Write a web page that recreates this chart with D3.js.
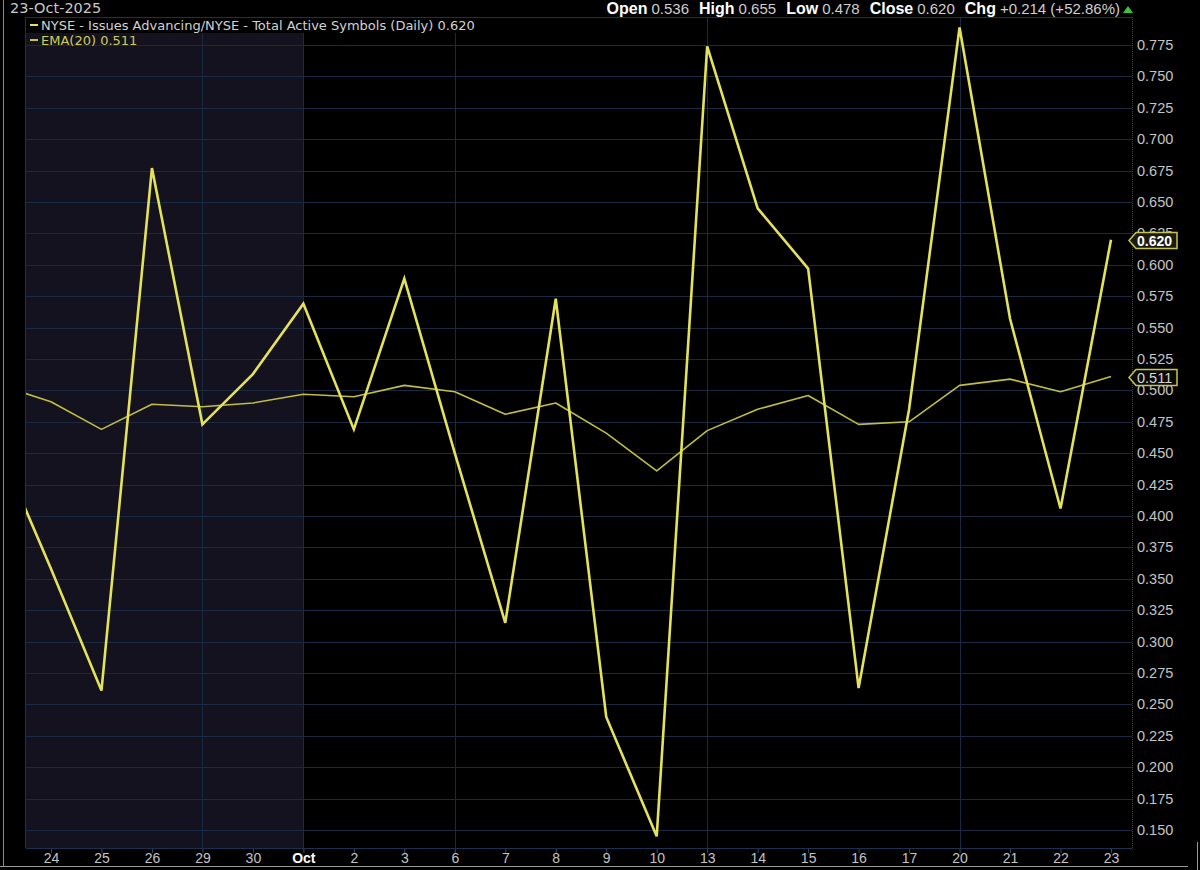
<!DOCTYPE html>
<html>
  <head>
    <script src="https://d3js.org/d3.v7.min.js"></script>
    <style>
    body { margin: 0; background: #000; }
    svg { display: block; font-family: "Liberation Sans", Arial, sans-serif; }
    .ylab { font-size: 14.5px; fill: #c4c4c4; }
    </style>
  </head>
  <body>
    <script>

    // dates (first one sits just off the left edge)
    var dates = ["2025-09-23", "2025-09-24", "2025-09-25", "2025-09-26", "2025-09-29", "2025-09-30",
      "2025-10-01", "2025-10-02", "2025-10-03", "2025-10-06", "2025-10-07", "2025-10-08",
      "2025-10-09", "2025-10-10", "2025-10-13", "2025-10-14", "2025-10-15", "2025-10-16",
      "2025-10-17", "2025-10-20", "2025-10-21", "2025-10-22", "2025-10-23"];
    var dateLabels = ["", "24", "25", "26", "29", "30", "Oct", "2", "3", "6", "7", "8",
      "9", "10", "13", "14", "15", "16", "17", "20", "21", "22", "23"];
    // advancing / total ratio (daily close)
    var ratio = [0.452, 0.358, 0.261, 0.677, 0.473, 0.513, 0.569, 0.469, 0.589, 0.450, 0.315, 0.573,
      0.240, 0.145, 0.774, 0.645, 0.597, 0.263, 0.485, 0.789, 0.557, 0.406, 0.620];
    // EMA(20)
    var ema = [0.504, 0.491, 0.469, 0.489, 0.487, 0.490, 0.497, 0.495, 0.504, 0.499, 0.481, 0.490,
      0.466, 0.436, 0.468, 0.485, 0.496, 0.473, 0.475, 0.504, 0.509, 0.499, 0.511];
    var yTicks = [0.150, 0.175, 0.200, 0.225, 0.250, 0.275, 0.300, 0.325, 0.350, 0.375, 0.400,
      0.425, 0.450, 0.475, 0.500, 0.525, 0.550, 0.575, 0.600, 0.625, 0.650, 0.675, 0.700,
      0.725, 0.750, 0.775];
    var gridDates = ["2025-09-29", "2025-10-01", "2025-10-06", "2025-10-13", "2025-10-20"];
    var header = [["Open", "0.536"], ["High", "0.655"], ["Low", "0.478"], ["Close", "0.620"], ["Chg", "+0.214 (+52.86%)"]];

    var w = 1200, h = 870;
    // plot box (note: "top" is taken by window.top, so use p* names)
    var pLeft = 26, pRight = 1132, pTop = 17, pBottom = 848;

    var svg = d3.select("body").append("svg")
      .attr("width", w)
      .attr("height", h);

    svg.append("rect").attr("width", w).attr("height", h).attr("fill", "#000");

    // x scale: one slot per trading day
    var x = d3.scalePoint()
      .domain(dates)
      .range([0.5, 1111]);

    var y = d3.scaleLinear()
      .domain([0.1357, 0.7973])
      .range([pBottom, pTop]);

    // shaded september part
    svg.append("rect")
      .attr("x", pLeft)
      .attr("y", pTop)
      .attr("width", x("2025-10-01") - pLeft)
      .attr("height", pBottom - pTop)
      .attr("fill", "#13121e");

    // horizontal grid
    svg.append("g")
      .selectAll("line")
      .data(yTicks)
      .enter()
      .append("line")
      .attr("x1", pLeft).attr("x2", pRight)
      .attr("y1", function(d) { return Math.round(y(d)) + 0.5; })
      .attr("y2", function(d) { return Math.round(y(d)) + 0.5; })
      .attr("stroke", "#1b2a43")
      .attr("stroke-width", 1);

    // vertical grid
    svg.append("g")
      .selectAll("line")
      .data(gridDates)
      .enter()
      .append("line")
      .attr("x1", function(d) { return Math.round(x(d)) + 0.5; })
      .attr("x2", function(d) { return Math.round(x(d)) + 0.5; })
      .attr("y1", pTop).attr("y2", pBottom)
      .attr("stroke", "#1b2a43")
      .attr("stroke-width", 1);

    // frame
    svg.append("line").attr("x1", pLeft).attr("x2", pRight).attr("y1", pTop + 0.5).attr("y2", pTop + 0.5)
      .attr("stroke", "#1e3050");
    svg.append("line").attr("x1", pLeft).attr("x2", pRight).attr("y1", pBottom + 0.5).attr("y2", pBottom + 0.5)
      .attr("stroke", "#1e3050");
    svg.append("line").attr("x1", pLeft - 0.5).attr("x2", pLeft - 0.5).attr("y1", pTop).attr("y2", pBottom)
      .attr("stroke", "#1e3050");
    svg.append("line").attr("x1", pRight + 0.5).attr("x2", pRight + 0.5).attr("y1", pTop).attr("y2", pBottom + 2)
      .attr("stroke", "#2c4a78").attr("stroke-dasharray", "1,1");

    // clip for lines
    svg.append("clipPath").attr("id", "plot")
      .append("rect")
      .attr("x", pLeft).attr("y", pTop)
      .attr("width", pRight - pLeft).attr("height", pBottom - pTop);

    var line = d3.line()
      .x(function(d, i) { return x(dates[i]); })
      .y(function(d) { return y(d); });

    var g = svg.append("g").attr("clip-path", "url(#plot)");

    g.append("path")
      .datum(ema)
      .attr("d", line)
      .attr("fill", "none")
      .attr("stroke", "#c2bd40")
      .attr("stroke-width", 1.6)
      .attr("stroke-linejoin", "round");

    g.append("path")
      .datum(ratio)
      .attr("d", line)
      .attr("fill", "none")
      .attr("stroke", "#e4e25a")
      .attr("stroke-width", 2.6)
      .attr("stroke-linejoin", "miter");

    // y axis labels on the right
    svg.append("g")
      .selectAll("text")
      .data(yTicks)
      .enter()
      .append("text")
      .attr("class", "ylab")
      .attr("x", pRight + 5)
      .attr("y", function(d) { return y(d) + 5; })
      .text(function(d) { return d3.format(".3f")(d); });

    // x axis ticks + labels
    var xAxis = d3.axisBottom(x)
      .tickValues(dates.slice(1))
      .tickSize(4)
      .tickFormat(function(d) { return dateLabels[dates.indexOf(d)]; });

    var xg = svg.append("g")
      .attr("transform", "translate(0," + (pBottom + 1) + ")")
      .call(xAxis);
    xg.select(".domain").remove();
    xg.selectAll(".tick line").attr("stroke", "#3a4a66");
    xg.selectAll(".tick text")
      .attr("dy", null)
      .attr("y", 14)
      .style("font-size", "14px")
      .style("fill", function(d) { return d === "2025-10-01" ? "#ffffff" : "#c4c4c4"; })
      .style("font-weight", function(d) { return d === "2025-10-01" ? "bold" : "normal"; })
      .style("font-family", "'Liberation Sans', Arial, sans-serif");

    // value tags on the right axis
    function tag(v, bold, fill) {
      var ty = Math.round(y(v)) + 0.5;
      var gt = svg.append("g");
      gt.append("path")
        .attr("d", "M" + (pRight - 3) + "," + ty + " L" + (pRight + 4) + "," + (ty - 8) +
          " L" + 1177 + "," + (ty - 8) + " L" + 1177 + "," + (ty + 8) +
          " L" + (pRight + 4) + "," + (ty + 8) + " Z")
        .attr("fill", fill)
        .attr("stroke", "#c8c453")
        .attr("stroke-width", 1.5);
      gt.append("text")
        .attr("x", pRight + 5)
        .attr("y", ty + 5)
        .attr("font-size", bold ? "14px" : "14.5px")
        .attr("font-weight", bold ? "bold" : "normal")
        .attr("fill", bold ? "#ffffff" : "#d6d6d6")
        .text(d3.format(".3f")(v));
    }
    tag(ratio[ratio.length - 1], true, "#1b1b12");
    tag(ema[ema.length - 1], false, "#0a0a06");

    // legend
    svg.append("rect").attr("x", pLeft).attr("y", pTop + 1).attr("width", 454).attr("height", 15).attr("fill", "#000");
    svg.append("line").attr("x1", 30).attr("x2", 38).attr("y1", 25).attr("y2", 25)
      .attr("stroke", "#e4e25a").attr("stroke-width", 2);
    svg.append("text").attr("x", 41).attr("y", 30)
      .attr("font-family", "'DejaVu Sans', sans-serif")
      .attr("font-size", "13px").attr("fill", "#d2d2d2")
      .text("NYSE - Issues Advancing/NYSE - Total Active Symbols (Daily) " + d3.format(".3f")(ratio[ratio.length - 1]));
    svg.append("line").attr("x1", 30).attr("x2", 38).attr("y1", 40).attr("y2", 40)
      .attr("stroke", "#c9c443").attr("stroke-width", 2);
    svg.append("text").attr("x", 41).attr("y", 45)
      .attr("font-family", "'DejaVu Sans', sans-serif")
      .attr("font-size", "13px").attr("fill", "#d0cc55")
      .text("EMA(20) " + d3.format(".3f")(ema[ema.length - 1]));

    // date in top left
    svg.append("text").attr("x", 10).attr("y", 13)
      .attr("font-family", "'DejaVu Sans', sans-serif")
      .attr("font-size", "14.5px").attr("fill", "#c8c8c8")
      .text("23-Oct-2025");

    // header values on the right
    var ht = svg.append("text").attr("x", 1120).attr("y", 14)
      .attr("text-anchor", "end").attr("font-size", "16px");
    header.forEach(function(p, i) {
      ht.append("tspan").attr("font-weight", "bold").attr("fill", "#ffffff")
        .attr("dx", i === 0 ? 0 : 10).text(p[0]);
      ht.append("tspan").attr("fill", "#cfcfcf").attr("font-size", "15px").attr("dx", 4).text(p[1]);
    });
    svg.append("path")
      .attr("d", "M1123,13 L1128,6 L1133,13 Z")
      .attr("fill", "#3cc23c");

    // window border
    svg.append("line").attr("x1", 3.5).attr("x2", 3.5).attr("y1", 0).attr("y2", 867)
      .attr("stroke", "#8a8a8a");
    svg.append("line").attr("x1", 0).attr("x2", 1188).attr("y1", 866.5).attr("y2", 866.5)
      .attr("stroke", "#9a9a9a");
    svg.append("line").attr("x1", 1197.5).attr("x2", 1197.5).attr("y1", 842).attr("y2", 870)
      .attr("stroke", "#9a9a9a");

    </script>
  </body>
</html>
